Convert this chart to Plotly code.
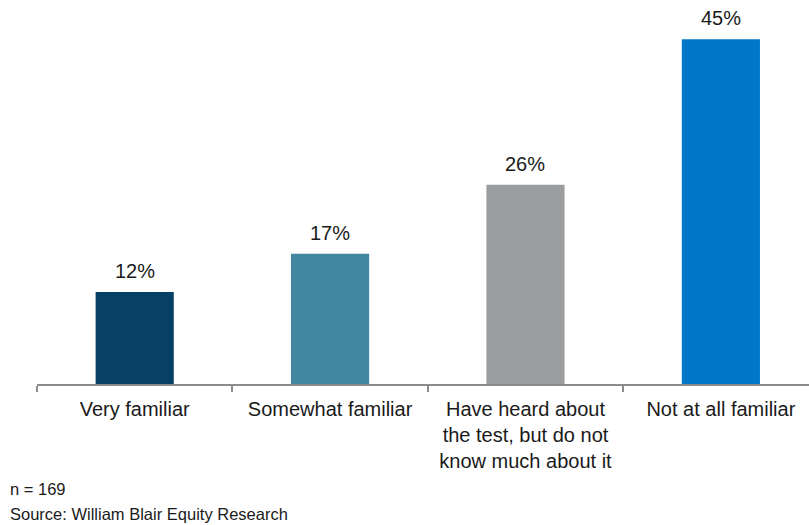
import plotly.graph_objects as go

# Survey responses: familiarity with the test
categories = [
    "Very familiar",
    "Somewhat familiar",
    "Have heard about<br>the test, but do not<br>know much about it",
    "Not at all familiar",
]
shares = [12, 17, 26, 45]
bar_colors = ["#064064", "#41879f", "#9c9d9f", "#0077c8"]
value_labels = [f"{v}%" for v in shares]

fig = go.Figure(
    go.Bar(
        x=categories,
        y=shares,
        marker=dict(color=bar_colors, line=dict(width=0)),
        width=0.4,
        hoverinfo="x+y",
    )
)

# Percentage labels sitting above each bar
for cat, val, lab in zip(categories, shares, value_labels):
    fig.add_annotation(
        x=cat, y=val, text=lab,
        xref="x", yref="y",
        xanchor="center", yanchor="bottom",
        yshift=8,
        showarrow=False,
        font=dict(family="Liberation Sans, Arial", size=20, color="#1a1a1a"),
    )

fig.update_layout(
    width=809,
    height=525,
    margin=dict(l=37, r=0, t=1, b=141),
    paper_bgcolor="white",
    plot_bgcolor="white",
    showlegend=False,
    font=dict(family="Liberation Sans, Arial", color="#1a1a1a"),
    xaxis=dict(
        type="category",
        range=[-0.5, 3.451],
        showline=True,
        linecolor="#8c8c8c",
        linewidth=1.5,
        ticks="outside",
        tickson="boundaries",
        ticklen=6,
        tickcolor="#8c8c8c",
        tickwidth=1.5,
        ticklabelstandoff=6,
        tickfont=dict(size=20, color="#1a1a1a"),
        showgrid=False,
    ),
    yaxis=dict(
        range=[0, 50],
        visible=False,
        showgrid=False,
        zeroline=False,
    ),
)

# Footnotes below the chart
fig.add_annotation(
    text="n = 169",
    xref="paper", yref="paper",
    x=-29 / 772, y=0,
    xanchor="left", yanchor="middle",
    yshift=-105,
    showarrow=False,
    font=dict(size=16.5, color="#1a1a1a"),
)
fig.add_annotation(
    text="Source: William Blair Equity Research",
    xref="paper", yref="paper",
    x=-29 / 772, y=0,
    xanchor="left", yanchor="middle",
    yshift=-130,
    showarrow=False,
    font=dict(size=16.5, color="#1a1a1a"),
)

fig.write_html("out.html")
